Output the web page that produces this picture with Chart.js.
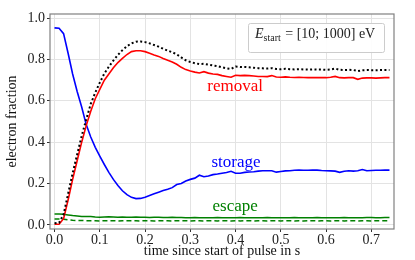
<!DOCTYPE html>
<html>
<head>
<meta charset="utf-8">
<script src="https://cdn.jsdelivr.net/npm/chart.js@4.4.0/dist/chart.umd.min.js"></script>
<style>
  html, body { margin: 0; padding: 0; background: #fff; }
</style>
</head>
<body>
<canvas id="chart" width="415" height="260"></canvas>
<script>
// time since start of pulse (s)
const time = [
  0.00, 0.01, 0.02, 0.03, 0.04, 0.05, 0.06, 0.07, 0.08, 0.09,
  0.10, 0.11, 0.12, 0.13, 0.14, 0.15, 0.16, 0.17, 0.18, 0.19,
  0.20, 0.21, 0.22, 0.23, 0.24, 0.25, 0.26, 0.27, 0.28, 0.29,
  0.30, 0.31, 0.32, 0.33, 0.34, 0.35, 0.36, 0.37, 0.38, 0.39,
  0.40, 0.41, 0.42, 0.43, 0.44, 0.45, 0.46, 0.47, 0.48, 0.49,
  0.50, 0.51, 0.52, 0.53, 0.54, 0.55, 0.56, 0.57, 0.58, 0.59,
  0.60, 0.61, 0.62, 0.63, 0.64, 0.65, 0.66, 0.67, 0.68, 0.69,
  0.70, 0.71, 0.72, 0.73, 0.74
];

const storage = [
  0.953, 0.951, 0.925, 0.830, 0.730, 0.645, 0.570, 0.485, 0.425, 0.375,
  0.333, 0.292, 0.254, 0.220, 0.190, 0.165, 0.146, 0.133, 0.127, 0.128,
  0.134, 0.142, 0.150, 0.158, 0.166, 0.172, 0.180, 0.195, 0.200, 0.212,
  0.220, 0.226, 0.240, 0.233, 0.236, 0.243, 0.246, 0.250, 0.253, 0.259,
  0.250, 0.250, 0.254, 0.256, 0.257, 0.260, 0.262, 0.262, 0.262, 0.255,
  0.258, 0.261, 0.262, 0.264, 0.265, 0.264, 0.264, 0.265, 0.265, 0.263,
  0.262, 0.261, 0.260, 0.254, 0.259, 0.262, 0.260, 0.262, 0.268, 0.262,
  0.263, 0.264, 0.264, 0.265, 0.265
];

const removal = [
  0.003, 0.003, 0.030, 0.120, 0.220, 0.310, 0.400, 0.480, 0.550, 0.610,
  0.655, 0.700, 0.730, 0.760, 0.785, 0.805, 0.824, 0.838, 0.842, 0.842,
  0.838, 0.830, 0.822, 0.815, 0.805, 0.796, 0.788, 0.777, 0.762, 0.751,
  0.744, 0.739, 0.735, 0.741, 0.734, 0.730, 0.728, 0.722, 0.718, 0.714,
  0.724, 0.722, 0.723, 0.722, 0.720, 0.718, 0.718, 0.717, 0.722, 0.715,
  0.714, 0.716, 0.714, 0.713, 0.714, 0.713, 0.712, 0.713, 0.712, 0.712,
  0.712, 0.714, 0.718, 0.712, 0.711, 0.712, 0.712, 0.704, 0.710, 0.711,
  0.711, 0.710, 0.711, 0.712, 0.712
];

const total = [
  0.008, 0.010, 0.050, 0.150, 0.250, 0.340, 0.430, 0.510, 0.585, 0.640,
  0.688, 0.732, 0.765, 0.795, 0.822, 0.845, 0.864, 0.878, 0.886, 0.887,
  0.884, 0.878, 0.870, 0.862, 0.852, 0.843, 0.835, 0.825, 0.810, 0.796,
  0.788, 0.782, 0.778, 0.779, 0.775, 0.771, 0.768, 0.762, 0.757, 0.754,
  0.766, 0.764, 0.764, 0.762, 0.760, 0.758, 0.757, 0.756, 0.758, 0.754,
  0.753, 0.755, 0.753, 0.752, 0.753, 0.752, 0.751, 0.752, 0.751, 0.751,
  0.750, 0.752, 0.756, 0.750, 0.749, 0.750, 0.749, 0.744, 0.748, 0.749,
  0.748, 0.748, 0.749, 0.749, 0.749
];

const escape = [
  0.052, 0.052, 0.051, 0.048, 0.045, 0.043, 0.041, 0.040, 0.040, 0.038,
  0.037, 0.038, 0.039, 0.038, 0.037, 0.038, 0.037, 0.037, 0.038, 0.037,
  0.037, 0.036, 0.037, 0.037, 0.036, 0.036, 0.037, 0.036, 0.036, 0.035,
  0.035, 0.036, 0.035, 0.035, 0.034, 0.035, 0.036, 0.035, 0.035, 0.034,
  0.035, 0.036, 0.035, 0.035, 0.034, 0.035, 0.035, 0.036, 0.035, 0.035,
  0.034, 0.035, 0.035, 0.036, 0.035, 0.035, 0.034, 0.035, 0.036, 0.035,
  0.035, 0.034, 0.035, 0.035, 0.036, 0.035, 0.035, 0.034, 0.035, 0.036,
  0.036, 0.035, 0.035, 0.036, 0.036
];

const escapeDashed = [
  0.028, 0.028, 0.027, 0.024, 0.022, 0.021, 0.021, 0.020, 0.020, 0.020,
  0.019, 0.020, 0.020, 0.020, 0.019, 0.020, 0.020, 0.020, 0.020, 0.019,
  0.020, 0.020, 0.019, 0.020, 0.020, 0.020, 0.019, 0.020, 0.020, 0.020,
  0.019, 0.020, 0.020, 0.019, 0.020, 0.020, 0.019, 0.020, 0.020, 0.019,
  0.020, 0.019, 0.020, 0.020, 0.019, 0.020, 0.020, 0.019, 0.020, 0.020,
  0.019, 0.020, 0.020, 0.019, 0.020, 0.019, 0.020, 0.020, 0.019, 0.020,
  0.020, 0.019, 0.020, 0.020, 0.019, 0.020, 0.020, 0.019, 0.020, 0.020,
  0.019, 0.020, 0.020, 0.020, 0.020
];

const xTicks = [0.0, 0.1, 0.2, 0.3, 0.4, 0.5, 0.6, 0.7];
const yTicks = [0.0, 0.2, 0.4, 0.6, 0.8, 1.0];

const curveLabels = [
  { text: 'removal', t: 0.399, v: 0.647, color: '#ff0000' },
  { text: 'storage', t: 0.401, v: 0.281, color: '#0000ff' },
  { text: 'escape', t: 0.399, v: 0.067, color: '#008000' }
];

const FONT = '"Liberation Serif", "DejaVu Serif", serif';

const pts = (arr) => arr.map((v, i) => ({ x: time[i], y: v }));

const decor = {
  id: 'decor',
  beforeDatasetsDraw(chart) {
    const { ctx, chartArea: a } = chart;
    ctx.save();
    ctx.strokeStyle = '#808080';
    ctx.lineWidth = 1.2;
    ctx.strokeRect(a.left, a.top, a.right - a.left, a.bottom - a.top);
    ctx.restore();
  },
  afterDraw(chart) {
    const { ctx, chartArea: a, scales: { x, y } } = chart;
    ctx.save();
    // curve names
    ctx.font = '17px ' + FONT;
    ctx.textAlign = 'center';
    ctx.textBaseline = 'alphabetic';
    curveLabels.forEach(l => {
      ctx.fillStyle = l.color;
      ctx.fillText(l.text, x.getPixelForValue(l.t), y.getPixelForValue(l.v));
    });

    // energy range box
    const bw = 136, bh = 29;
    const bx = a.right - 10 - bw, by = a.top + 9;
    ctx.fillStyle = 'rgba(255,255,255,0.9)';
    ctx.strokeStyle = '#cccccc';
    ctx.lineWidth = 1;
    ctx.beginPath();
    ctx.roundRect(bx + 0.5, by + 0.5, bw, bh, 2);
    ctx.fill();
    ctx.stroke();

    ctx.fillStyle = '#222';
    ctx.textAlign = 'left';
    const base = by + 15;
    let cx = bx + 7;
    ctx.font = 'italic 14px ' + FONT;
    ctx.fillText('E', cx, base);
    cx += ctx.measureText('E').width;
    ctx.font = '10px ' + FONT;
    ctx.fillText('start', cx, base + 3);
    cx += ctx.measureText('start').width + 1;
    ctx.font = '14px ' + FONT;
    ctx.fillText(' = [10; 1000] eV', cx, base);
    ctx.restore();
  }
};

new Chart(document.getElementById('chart'), {
  type: 'line',
  data: {
    datasets: [
      { label: 'total', data: pts(total), borderColor: '#000', borderWidth: 2, borderDash: [2, 2.4] },
      { label: 'removal', data: pts(removal), borderColor: '#ff0000', borderWidth: 1.6 },
      { label: 'storage', data: pts(storage), borderColor: '#0000ff', borderWidth: 1.6 },
      { label: 'escape (2)', data: pts(escapeDashed), borderColor: '#008000', borderWidth: 1.5, borderDash: [5, 3] },
      { label: 'escape', data: pts(escape), borderColor: '#008000', borderWidth: 1.5 }
    ]
  },
  options: {
    responsive: false,
    animation: false,
    devicePixelRatio: 1,
    layout: { padding: { top: 14, right: 21, left: 0, bottom: 0 } },
    elements: { point: { radius: 0 }, line: { tension: 0, fill: false } },
    plugins: { legend: { display: false }, tooltip: { enabled: false } },
    scales: {
      x: {
        type: 'linear',
        min: -0.01,
        max: 0.75,
        afterBuildTicks: (s) => { s.ticks = xTicks.map(v => ({ value: v })); },
        afterFit: (s) => { s.height = 31; },
        grid: { color: '#e3e3e3', lineWidth: 1, tickLength: 3, tickColor: '#333' },
        border: { display: false },
        ticks: { padding: 0, maxRotation: 0, color: '#222', font: { family: FONT, size: 14 },
          callback: (v) => Number(v).toFixed(1) },
        title: { display: true, text: 'time since start of pulse in s', color: '#111',
          font: { family: FONT, size: 14 }, padding: { top: 2, bottom: 0 } }
      },
      y: {
        min: -0.02,
        max: 1.02,
        afterBuildTicks: (s) => { s.ticks = yTicks.map(v => ({ value: v })); },
        afterFit: (s) => { s.width = 50; },
        grid: { color: '#e3e3e3', lineWidth: 1, tickLength: 3, tickColor: '#333' },
        border: { display: false },
        ticks: { padding: 2, color: '#222', font: { family: FONT, size: 14 },
          callback: (v) => Number(v).toFixed(1) },
        title: { display: true, text: 'electron fraction', color: '#111',
          font: { family: FONT, size: 14 }, padding: { top: 4, bottom: 0 } }
      }
    }
  },
  plugins: [decor]
});
</script>
</body>
</html>
